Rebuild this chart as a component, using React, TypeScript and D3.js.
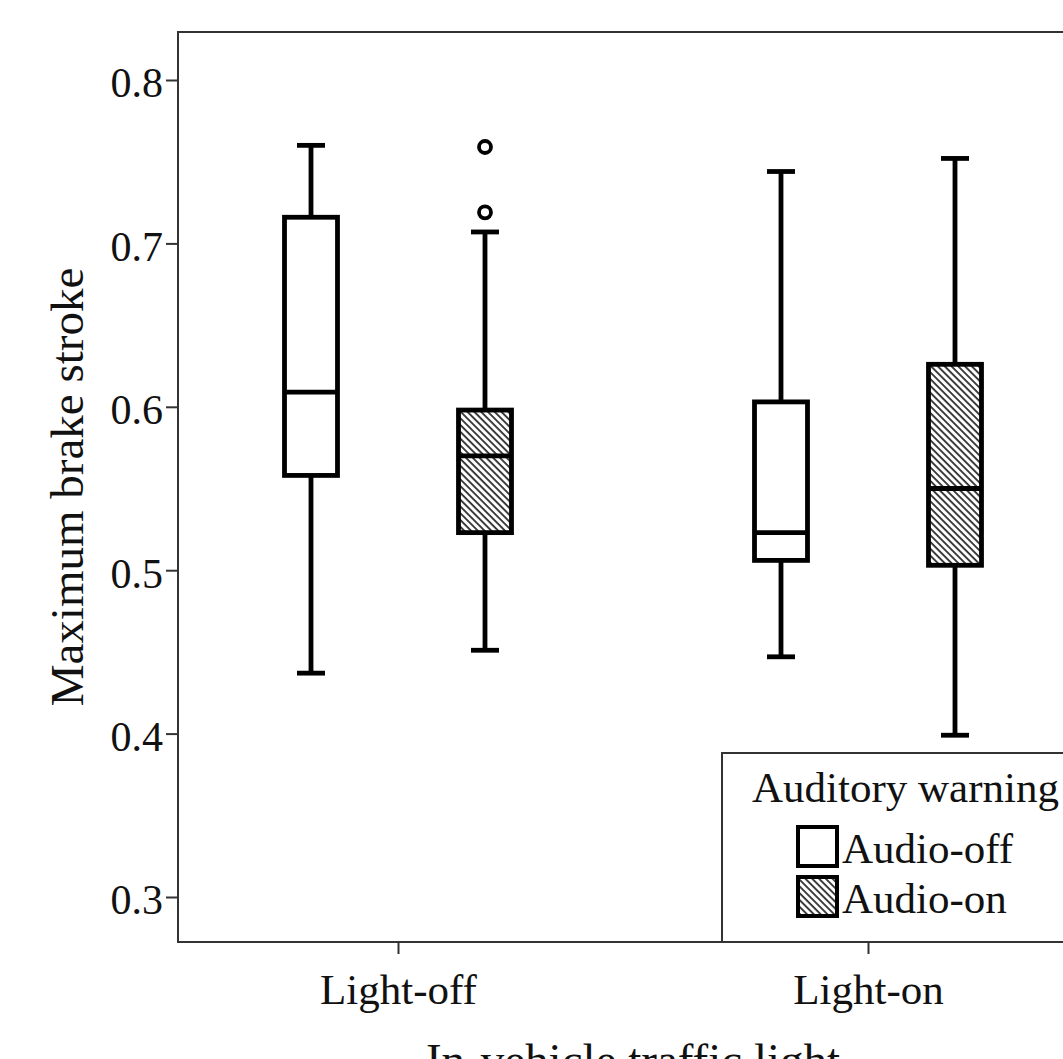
import * as React from 'react';
import * as d3 from 'd3';

// box plot summary
const categories = ['Light-off', 'Light-on'];
const warnings = ['Audio-off', 'Audio-on'];
const boxCategory = ['Light-off', 'Light-off', 'Light-on', 'Light-on'];
const boxWarning = ['Audio-off', 'Audio-on', 'Audio-off', 'Audio-on'];
const whiskerMin = [0.437, 0.451, 0.447, 0.399];
const q1 = [0.558, 0.523, 0.506, 0.503];
const median = [0.609, 0.570, 0.523, 0.550];
const q3 = [0.716, 0.598, 0.603, 0.626];
const whiskerMax = [0.760, 0.707, 0.744, 0.752];
const outliers = [[], [0.719, 0.759], [], []];
const yTicks = [0.3, 0.4, 0.5, 0.6, 0.7, 0.8];

const FONT = '"Liberation Serif", "Times New Roman", serif';

export default function App() {
    const ref = React.useRef<SVGSVGElement>(null);

    React.useEffect(() => {
        const svg = d3.select(ref.current);
        svg.selectAll('*').remove();

        const frame = { left: 178, top: 32, right: 1088, bottom: 942 };

        const x = d3.scalePoint<string>().domain(categories).range([398, 868]);
        const xSub = d3.scaleBand<string>().domain(warnings).range([-174, 174]);
        const y = d3.scaleLinear().domain([0.3, 0.8]).range([897, 80]);
        const boxW = 53;
        const capW = 28;

        // hatch pattern for Audio-on
        const defs = svg.append('defs');
        const pat = defs.append('pattern')
            .attr('id', 'hatch')
            .attr('patternUnits', 'userSpaceOnUse')
            .attr('width', 4.8)
            .attr('height', 10)
            .attr('patternTransform', 'rotate(-45)');
        pat.append('rect').attr('width', 4.8).attr('height', 10).attr('fill', '#fff');
        pat.append('line')
            .attr('x1', 1).attr('y1', 0).attr('x2', 1).attr('y2', 10)
            .attr('stroke', '#222').attr('stroke-width', 1.7);

        const fillFor = (w: string) => (w === 'Audio-on' ? 'url(#hatch)' : '#fff');

        // frame
        svg.append('rect')
            .attr('x', frame.left).attr('y', frame.top)
            .attr('width', frame.right - frame.left).attr('height', frame.bottom - frame.top)
            .attr('fill', 'none').attr('stroke', '#333').attr('stroke-width', 2);

        // y axis
        const yAxis = svg.append('g')
            .attr('transform', `translate(${frame.left},0)`)
            .call(d3.axisLeft(y).tickValues(yTicks).tickFormat(d3.format('.1f')).tickSize(12).tickPadding(3));
        yAxis.select('.domain').remove();
        yAxis.selectAll('line').attr('stroke', '#333').attr('stroke-width', 2);
        yAxis.selectAll('text')
            .attr('dy', '0.4em')
            .style('font-family', FONT).style('font-size', '42px').attr('fill', '#111');

        // x axis
        const xAxis = svg.append('g')
            .attr('transform', `translate(0,${frame.bottom})`)
            .call(d3.axisBottom(x).tickSize(12).tickPadding(19));
        xAxis.select('.domain').remove();
        xAxis.selectAll('line').attr('stroke', '#333').attr('stroke-width', 2);
        xAxis.selectAll('text')
            .style('font-family', FONT).style('font-size', '43px').attr('fill', '#111');

        // axis titles
        svg.append('text')
            .attr('transform', `translate(83,${(frame.top + frame.bottom) / 2}) rotate(-90)`)
            .attr('text-anchor', 'middle')
            .style('font-family', FONT).style('font-size', '47px').attr('fill', '#111')
            .text('Maximum brake stroke');
        svg.append('text')
            .attr('x', (x('Light-off')! + x('Light-on')!) / 2)
            .attr('y', 1076)
            .attr('text-anchor', 'middle')
            .style('font-family', FONT).style('font-size', '47px').attr('fill', '#111')
            .text('In-vehicle traffic light');

        // boxes
        const idx = d3.range(boxCategory.length);
        const cx = (i: number) => x(boxCategory[i])! + xSub(boxWarning[i])! + xSub.bandwidth() / 2;
        const g = svg.append('g').attr('stroke', '#000').attr('stroke-width', 4.8);

        idx.forEach((i) => {
            const c = cx(i);
            // whiskers
            g.append('line').attr('x1', c).attr('x2', c).attr('y1', y(whiskerMax[i])).attr('y2', y(q3[i]));
            g.append('line').attr('x1', c).attr('x2', c).attr('y1', y(q1[i])).attr('y2', y(whiskerMin[i]));
            g.append('line').attr('x1', c - capW / 2).attr('x2', c + capW / 2)
                .attr('y1', y(whiskerMax[i])).attr('y2', y(whiskerMax[i]));
            g.append('line').attr('x1', c - capW / 2).attr('x2', c + capW / 2)
                .attr('y1', y(whiskerMin[i])).attr('y2', y(whiskerMin[i]));
            // box
            g.append('rect')
                .attr('x', c - boxW / 2).attr('y', y(q3[i]))
                .attr('width', boxW).attr('height', y(q1[i]) - y(q3[i]))
                .attr('fill', fillFor(boxWarning[i]));
            g.append('line').attr('x1', c - boxW / 2).attr('x2', c + boxW / 2)
                .attr('y1', y(median[i])).attr('y2', y(median[i]));
            // outliers
            outliers[i].forEach((v) => {
                g.append('circle').attr('cx', c).attr('cy', y(v)).attr('r', 6)
                    .attr('fill', '#fff').attr('stroke-width', 3.8);
            });
        });

        // legend
        const lg = svg.append('g');
        lg.append('rect')
            .attr('x', 722).attr('y', 753).attr('width', 420).attr('height', frame.bottom - 753)
            .attr('fill', '#fff').attr('stroke', '#333').attr('stroke-width', 2);
        lg.append('text')
            .attr('x', 752).attr('y', 802)
            .style('font-family', FONT).style('font-size', '43px').attr('fill', '#111')
            .text('Auditory warning');
        warnings.forEach((w, i) => {
            const top = 827 + i * 50;
            lg.append('rect')
                .attr('x', 798).attr('y', top).attr('width', 39).attr('height', 39)
                .attr('fill', fillFor(w)).attr('stroke', '#000').attr('stroke-width', 4);
            lg.append('text')
                .attr('x', 842).attr('y', top + 36)
                .style('font-family', FONT).style('font-size', '43px').attr('fill', '#111')
                .text(w);
        });
    }, []);

    return (
        <svg ref={ref} width={1063} height={1059}
            style={{ position: 'absolute', left: 0, top: 0, background: '#fff' }} />
    );
}
